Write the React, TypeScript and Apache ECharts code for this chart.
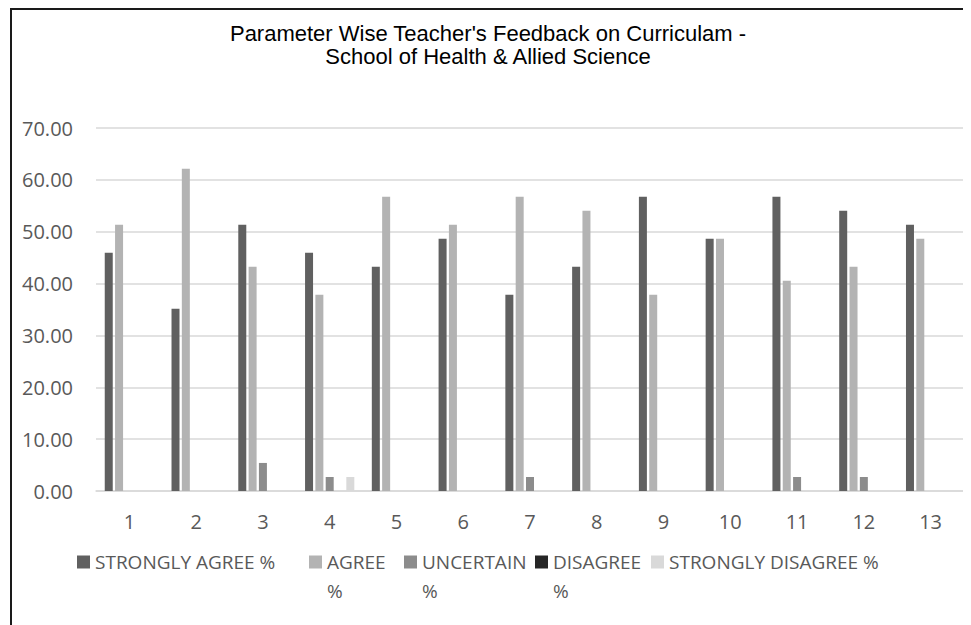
import React, { useEffect, useRef } from "react";
import * as echarts from "echarts";

const categories = ["1", "2", "3", "4", "5", "6", "7", "8", "9", "10", "11", "12", "13"];
const seriesNames = ["STRONGLY AGREE %", "AGREE %", "UNCERTAIN %", "DISAGREE %", "STRONGLY DISAGREE %"];
const stronglyAgree = [45.95, 35.14, 51.35, 45.95, 43.24, 48.65, 37.84, 43.24, 56.76, 48.65, 56.76, 54.05, 51.35];
const agree = [51.35, 62.16, 43.24, 37.84, 56.76, 51.35, 56.76, 54.05, 37.84, 48.65, 40.54, 43.24, 48.65];
const uncertain = [0, 0, 5.41, 2.7, 0, 0, 2.7, 0, 0, 0, 2.7, 2.7, 0];
const disagree = [0, 0, 0, 0, 0, 0, 0, 0, 0, 0, 0, 0, 0];
const stronglyDisagree = [0, 0, 0, 2.7, 0, 0, 0, 0, 0, 0, 0, 0, 0];
const yTicks = { min: 0, max: 70, interval: 10 };
const titleText = "Parameter Wise Teacher's Feedback on Curriculam -\nSchool of Health & Allied Science";

const colors = ["#606060", "#b3b3b3", "#8c8c8c", "#262626", "#d9d9d9"];
const legendLefts = [65, 297, 392, 523, 639];
const wrapped = [false, true, true, true, false];

export default function App() {
  const ref = useRef<HTMLDivElement>(null);
  useEffect(() => {
    if (!ref.current) return;
    const chart = echarts.init(ref.current, undefined, { renderer: "svg" });
    const values = [stronglyAgree, agree, uncertain, disagree, stronglyDisagree];
    const font = "'Open Sans', 'Noto Sans', sans-serif";
    const legends = seriesNames.map((name, i) => ({
      show: true,
      left: legendLefts[i],
      top: wrapped[i] ? 552 - 43.5 : 552 - 14.5,
      padding: 0,
      orient: "horizontal",
      itemWidth: 13,
      itemHeight: 13,
      icon: "rect",
      selectedMode: false,
      data: [name],
      formatter: (n: string) => (wrapped[i] ? "\n" + n.replace(" %", "\n%") : n),
      textStyle: {
        color: "#595959",
        fontSize: 19,
        fontFamily: font,
        lineHeight: 29,
      },
    }));
    chart.setOption({
      animation: false,
      backgroundColor: "#ffffff",
      color: colors,
      title: {
        text: titleText,
        left: 476,
        top: 12,
        padding: 0,
        textAlign: "center",
        textStyle: {
          fontFamily: "'Liberation Sans', Arial, sans-serif",
          fontSize: 22,
          fontWeight: "normal",
          color: "#000000",
          lineHeight: 23,
        },
      },
      legend: legends,
      grid: { left: 84, top: 118, width: 868, height: 363, containLabel: false },
      xAxis: {
        type: "category",
        data: categories,
        axisLine: { show: true, lineStyle: { color: "#d9d9d9", width: 1.5 } },
        axisTick: { show: false },
        axisLabel: { color: "#595959", fontSize: 20, fontFamily: font, margin: 20 },
      },
      yAxis: {
        type: "value",
        min: yTicks.min,
        max: yTicks.max,
        interval: yTicks.interval,
        axisLine: { show: false },
        axisTick: { show: false },
        splitLine: { lineStyle: { color: "#d9d9d9", width: 1.5 } },
        axisLabel: {
          color: "#595959",
          fontSize: 20,
          fontFamily: font,
          margin: 23,
          formatter: (v: number) => v.toFixed(2),
        },
      },
      series: seriesNames.map((name, i) => ({
        name,
        type: "bar",
        data: values[i],
        barWidth: 8,
        barGap: "29%",
        itemStyle: { color: colors[i] },
      })),
    });
    return () => chart.dispose();
  }, []);
  return (
    <div style={{ marginLeft: 2, width: 1000, height: 700, border: "2px solid #1a1a1a", borderRight: "none", borderBottom: "none" }}>
      <div ref={ref} style={{ width: 998, height: 698 }} />
    </div>
  );
}
